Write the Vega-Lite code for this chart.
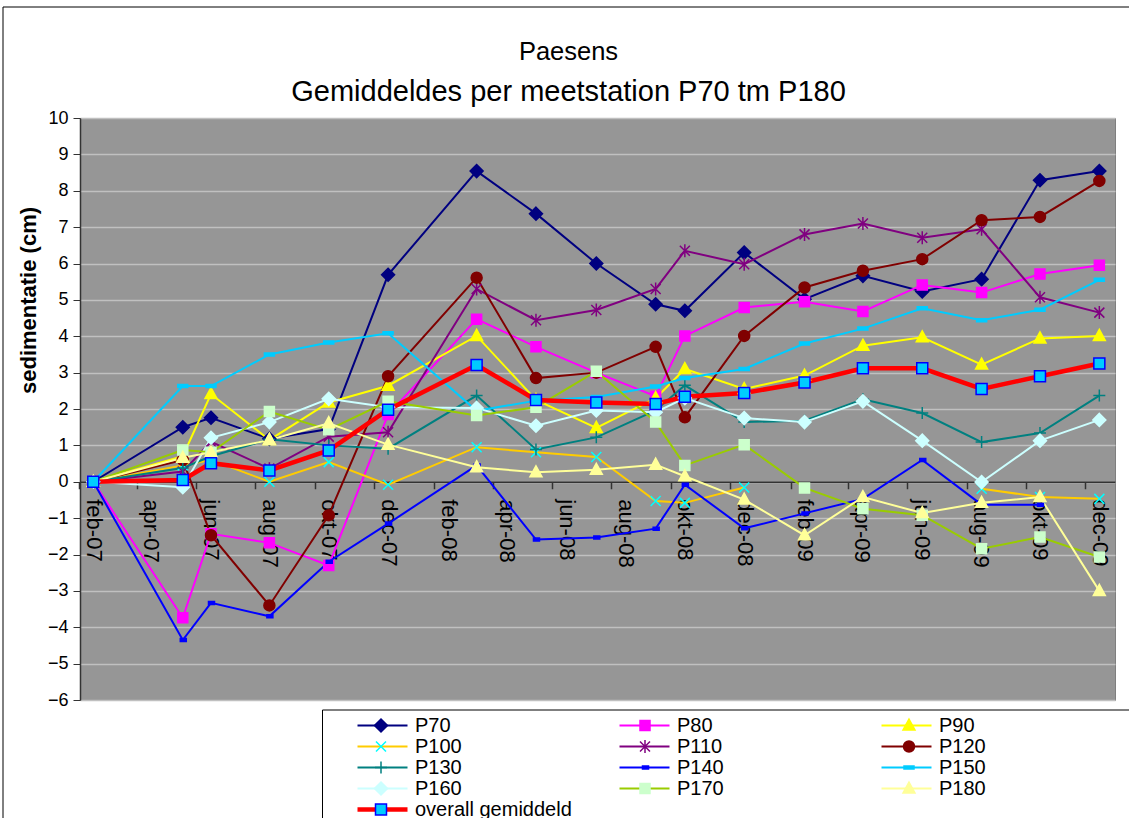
{
"$schema": "https://vega.github.io/schema/vega-lite/v6.json",
"width": 1035, "height": 582,
"autosize": {"type": "none"},
"padding": {"left": 80, "top": 118, "right": 14, "bottom": 118},
"background": "white",
"title": {"text": "Paesens", "subtitle": "Gemiddeldes per meetstation P70 tm P180", "fontSize": 25.5, "font": "Liberation Sans", "fontWeight": "normal", "color": "black", "subtitleFontSize": 29, "subtitleFont": "Liberation Sans", "subtitleColor": "black", "subtitlePadding": 13, "anchor": "middle", "frame": "group", "dx": -29, "offset": -100, "baseline": "top"},
"config": {
  "font": "Liberation Sans",
  "view": {"fill": "#969696", "stroke": "#7f7f7f", "strokeWidth": 1}
},
"data": {"values": [
{"date":"2007-02-01","series":"P70","value":0},{"date":"2007-05-04","series":"P70","value":1.5},{"date":"2007-06-02","series":"P70","value":1.76},{"date":"2007-08-01","series":"P70","value":1.18},{"date":"2007-10-01","series":"P70","value":1.45},{"date":"2007-12-01","series":"P70","value":5.69},{"date":"2008-03-01","series":"P70","value":8.54},{"date":"2008-05-01","series":"P70","value":7.37},{"date":"2008-07-02","series":"P70","value":6.0},{"date":"2008-09-01","series":"P70","value":4.88},{"date":"2008-10-01","series":"P70","value":4.7},{"date":"2008-12-01","series":"P70","value":6.3},{"date":"2009-02-01","series":"P70","value":5.02},{"date":"2009-04-02","series":"P70","value":5.66},{"date":"2009-06-02","series":"P70","value":5.23},{"date":"2009-08-02","series":"P70","value":5.57},{"date":"2009-10-01","series":"P70","value":8.29},{"date":"2009-12-01","series":"P70","value":8.54},
{"date":"2007-02-01","series":"P80","value":0},{"date":"2007-05-04","series":"P80","value":-3.74},{"date":"2007-06-02","series":"P80","value":-1.43},{"date":"2007-08-01","series":"P80","value":-1.68},{"date":"2007-10-01","series":"P80","value":-2.3},{"date":"2007-12-01","series":"P80","value":1.85},{"date":"2008-03-01","series":"P80","value":4.47},{"date":"2008-05-01","series":"P80","value":3.71},{"date":"2008-07-02","series":"P80","value":3.0},{"date":"2008-09-01","series":"P80","value":2.35},{"date":"2008-10-01","series":"P80","value":4.01},{"date":"2008-12-01","series":"P80","value":4.79},{"date":"2009-02-01","series":"P80","value":4.95},{"date":"2009-04-02","series":"P80","value":4.68},{"date":"2009-06-02","series":"P80","value":5.41},{"date":"2009-08-02","series":"P80","value":5.2},{"date":"2009-10-01","series":"P80","value":5.71},{"date":"2009-12-01","series":"P80","value":5.95},
{"date":"2007-02-01","series":"P90","value":0},{"date":"2007-05-04","series":"P90","value":0.7},{"date":"2007-06-02","series":"P90","value":2.41},{"date":"2007-08-01","series":"P90","value":1.15},{"date":"2007-10-01","series":"P90","value":2.18},{"date":"2007-12-01","series":"P90","value":2.64},{"date":"2008-03-01","series":"P90","value":4.01},{"date":"2008-05-01","series":"P90","value":2.25},{"date":"2008-07-02","series":"P90","value":1.48},{"date":"2008-09-01","series":"P90","value":2.3},{"date":"2008-10-01","series":"P90","value":3.1},{"date":"2008-12-01","series":"P90","value":2.55},{"date":"2009-02-01","series":"P90","value":2.92},{"date":"2009-04-02","series":"P90","value":3.74},{"date":"2009-06-02","series":"P90","value":3.97},{"date":"2009-08-02","series":"P90","value":3.22},{"date":"2009-10-01","series":"P90","value":3.94},{"date":"2009-12-01","series":"P90","value":4.01},
{"date":"2007-02-01","series":"P100","value":0},{"date":"2007-05-04","series":"P100","value":0.45},{"date":"2007-06-02","series":"P100","value":0.6},{"date":"2007-08-01","series":"P100","value":0.0},{"date":"2007-10-01","series":"P100","value":0.54},{"date":"2007-12-01","series":"P100","value":-0.08},{"date":"2008-03-01","series":"P100","value":0.95},{"date":"2008-05-01","series":"P100","value":0.81},{"date":"2008-07-02","series":"P100","value":0.68},{"date":"2008-09-01","series":"P100","value":-0.53},{"date":"2008-10-01","series":"P100","value":-0.58},{"date":"2008-12-01","series":"P100","value":-0.16},{"date":"2009-02-01","series":"P100","value":null},{"date":"2009-04-02","series":"P100","value":null},{"date":"2009-06-02","series":"P100","value":null},{"date":"2009-08-02","series":"P100","value":-0.19},{"date":"2009-10-01","series":"P100","value":-0.42},{"date":"2009-12-01","series":"P100","value":-0.47},
{"date":"2007-02-01","series":"P110","value":0},{"date":"2007-05-04","series":"P110","value":0.28},{"date":"2007-06-02","series":"P110","value":1.1},{"date":"2007-08-01","series":"P110","value":0.36},{"date":"2007-10-01","series":"P110","value":1.24},{"date":"2007-12-01","series":"P110","value":1.36},{"date":"2008-03-01","series":"P110","value":5.3},{"date":"2008-05-01","series":"P110","value":4.44},{"date":"2008-07-02","series":"P110","value":4.72},{"date":"2008-09-01","series":"P110","value":5.3},{"date":"2008-10-01","series":"P110","value":6.35},{"date":"2008-12-01","series":"P110","value":5.98},{"date":"2009-02-01","series":"P110","value":6.8},{"date":"2009-04-02","series":"P110","value":7.1},{"date":"2009-06-02","series":"P110","value":6.71},{"date":"2009-08-02","series":"P110","value":6.94},{"date":"2009-10-01","series":"P110","value":5.07},{"date":"2009-12-01","series":"P110","value":4.65},
{"date":"2007-02-01","series":"P120","value":0},{"date":"2007-05-04","series":"P120","value":0.6},{"date":"2007-06-02","series":"P120","value":-1.47},{"date":"2007-08-01","series":"P120","value":-3.4},{"date":"2007-10-01","series":"P120","value":-0.92},{"date":"2007-12-01","series":"P120","value":2.9},{"date":"2008-03-01","series":"P120","value":5.61},{"date":"2008-05-01","series":"P120","value":2.85},{"date":"2008-07-02","series":"P120","value":3.0},{"date":"2008-09-01","series":"P120","value":3.71},{"date":"2008-10-01","series":"P120","value":1.77},{"date":"2008-12-01","series":"P120","value":4.01},{"date":"2009-02-01","series":"P120","value":5.34},{"date":"2009-04-02","series":"P120","value":5.8},{"date":"2009-06-02","series":"P120","value":6.12},{"date":"2009-08-02","series":"P120","value":7.19},{"date":"2009-10-01","series":"P120","value":7.28},{"date":"2009-12-01","series":"P120","value":8.27},
{"date":"2007-02-01","series":"P130","value":0},{"date":"2007-05-04","series":"P130","value":0.38},{"date":"2007-06-02","series":"P130","value":0.7},{"date":"2007-08-01","series":"P130","value":1.17},{"date":"2007-10-01","series":"P130","value":1.0},{"date":"2007-12-01","series":"P130","value":0.91},{"date":"2008-03-01","series":"P130","value":2.37},{"date":"2008-05-01","series":"P130","value":0.89},{"date":"2008-07-02","series":"P130","value":1.22},{"date":"2008-09-01","series":"P130","value":1.96},{"date":"2008-10-01","series":"P130","value":2.65},{"date":"2008-12-01","series":"P130","value":1.64},{"date":"2009-02-01","series":"P130","value":1.68},{"date":"2009-04-02","series":"P130","value":2.27},{"date":"2009-06-02","series":"P130","value":1.89},{"date":"2009-08-02","series":"P130","value":1.09},{"date":"2009-10-01","series":"P130","value":1.34},{"date":"2009-12-01","series":"P130","value":2.37},
{"date":"2007-02-01","series":"P140","value":0},{"date":"2007-05-04","series":"P140","value":-4.35},{"date":"2007-06-02","series":"P140","value":-3.33},{"date":"2007-08-01","series":"P140","value":-3.7},{"date":"2007-10-01","series":"P140","value":-2.2},{"date":"2007-12-01","series":"P140","value":-1.15},{"date":"2008-03-01","series":"P140","value":0.45},{"date":"2008-05-01","series":"P140","value":-1.59},{"date":"2008-07-02","series":"P140","value":-1.53},{"date":"2008-09-01","series":"P140","value":-1.29},{"date":"2008-10-01","series":"P140","value":-0.08},{"date":"2008-12-01","series":"P140","value":-1.28},{"date":"2009-02-01","series":"P140","value":-0.87},{"date":"2009-04-02","series":"P140","value":-0.47},{"date":"2009-06-02","series":"P140","value":0.6},{"date":"2009-08-02","series":"P140","value":-0.63},{"date":"2009-10-01","series":"P140","value":-0.63},{"date":"2009-12-01","series":"P140","value":null},
{"date":"2007-02-01","series":"P150","value":0},{"date":"2007-05-04","series":"P150","value":2.63},{"date":"2007-06-02","series":"P150","value":2.63},{"date":"2007-08-01","series":"P150","value":3.5},{"date":"2007-10-01","series":"P150","value":3.83},{"date":"2007-12-01","series":"P150","value":4.08},{"date":"2008-03-01","series":"P150","value":1.95},{"date":"2008-05-01","series":"P150","value":2.23},{"date":"2008-07-02","series":"P150","value":2.33},{"date":"2008-09-01","series":"P150","value":2.62},{"date":"2008-10-01","series":"P150","value":2.85},{"date":"2008-12-01","series":"P150","value":3.1},{"date":"2009-02-01","series":"P150","value":3.8},{"date":"2009-04-02","series":"P150","value":4.21},{"date":"2009-06-02","series":"P150","value":4.77},{"date":"2009-08-02","series":"P150","value":4.44},{"date":"2009-10-01","series":"P150","value":4.73},{"date":"2009-12-01","series":"P150","value":5.55},
{"date":"2007-02-01","series":"P160","value":0},{"date":"2007-05-04","series":"P160","value":-0.15},{"date":"2007-06-02","series":"P160","value":1.21},{"date":"2007-08-01","series":"P160","value":1.64},{"date":"2007-10-01","series":"P160","value":2.28},{"date":"2007-12-01","series":"P160","value":2.05},{"date":"2008-03-01","series":"P160","value":2.03},{"date":"2008-05-01","series":"P160","value":1.54},{"date":"2008-07-02","series":"P160","value":1.96},{"date":"2008-09-01","series":"P160","value":1.91},{"date":"2008-10-01","series":"P160","value":2.3},{"date":"2008-12-01","series":"P160","value":1.75},{"date":"2009-02-01","series":"P160","value":1.64},{"date":"2009-04-02","series":"P160","value":2.21},{"date":"2009-06-02","series":"P160","value":1.13},{"date":"2009-08-02","series":"P160","value":-0.01},{"date":"2009-10-01","series":"P160","value":1.13},{"date":"2009-12-01","series":"P160","value":1.7},
{"date":"2007-02-01","series":"P170","value":0},{"date":"2007-05-04","series":"P170","value":0.87},{"date":"2007-06-02","series":"P170","value":0.81},{"date":"2007-08-01","series":"P170","value":1.93},{"date":"2007-10-01","series":"P170","value":1.43},{"date":"2007-12-01","series":"P170","value":2.21},{"date":"2008-03-01","series":"P170","value":1.82},{"date":"2008-05-01","series":"P170","value":2.05},{"date":"2008-07-02","series":"P170","value":3.04},{"date":"2008-09-01","series":"P170","value":1.64},{"date":"2008-10-01","series":"P170","value":0.45},{"date":"2008-12-01","series":"P170","value":1.02},{"date":"2009-02-01","series":"P170","value":-0.17},{"date":"2009-04-02","series":"P170","value":-0.74},{"date":"2009-06-02","series":"P170","value":-0.92},{"date":"2009-08-02","series":"P170","value":-1.84},{"date":"2009-10-01","series":"P170","value":-1.52},{"date":"2009-12-01","series":"P170","value":-2.07},
{"date":"2007-02-01","series":"P180","value":0},{"date":"2007-05-04","series":"P180","value":0.66},{"date":"2007-06-02","series":"P180","value":0.81},{"date":"2007-08-01","series":"P180","value":1.15},{"date":"2007-10-01","series":"P180","value":1.61},{"date":"2007-12-01","series":"P180","value":1.02},{"date":"2008-03-01","series":"P180","value":0.4},{"date":"2008-05-01","series":"P180","value":0.26},{"date":"2008-07-02","series":"P180","value":0.33},{"date":"2008-09-01","series":"P180","value":0.47},{"date":"2008-10-01","series":"P180","value":0.15},{"date":"2008-12-01","series":"P180","value":-0.49},{"date":"2009-02-01","series":"P180","value":-1.47},{"date":"2009-04-02","series":"P180","value":-0.42},{"date":"2009-06-02","series":"P180","value":-0.86},{"date":"2009-08-02","series":"P180","value":-0.58},{"date":"2009-10-01","series":"P180","value":-0.42},{"date":"2009-12-01","series":"P180","value":-3.0},
{"date":"2007-02-01","series":"overall gemiddeld","value":0},{"date":"2007-05-04","series":"overall gemiddeld","value":0.05},{"date":"2007-06-02","series":"overall gemiddeld","value":0.51},{"date":"2007-08-01","series":"overall gemiddeld","value":0.31},{"date":"2007-10-01","series":"overall gemiddeld","value":0.86},{"date":"2007-12-01","series":"overall gemiddeld","value":1.98},{"date":"2008-03-01","series":"overall gemiddeld","value":3.21},{"date":"2008-05-01","series":"overall gemiddeld","value":2.25},{"date":"2008-07-02","series":"overall gemiddeld","value":2.18},{"date":"2008-09-01","series":"overall gemiddeld","value":2.14},{"date":"2008-10-01","series":"overall gemiddeld","value":2.34},{"date":"2008-12-01","series":"overall gemiddeld","value":2.44},{"date":"2009-02-01","series":"overall gemiddeld","value":2.73},{"date":"2009-04-02","series":"overall gemiddeld","value":3.12},{"date":"2009-06-02","series":"overall gemiddeld","value":3.12},{"date":"2009-08-02","series":"overall gemiddeld","value":2.55},{"date":"2009-10-01","series":"overall gemiddeld","value":2.9},{"date":"2009-12-01","series":"overall gemiddeld","value":3.25}
]},
"encoding": {
  "x": {"field": "date", "type": "temporal",
    "scale": {"type": "utc", "domain": [1169110000000, 1261016640000]},
    "axis": {"orient": "bottom", "offset": -218.25, "title": null, "grid": false,
      "values": [{"year":2007,"month":2,"date":1,"utc":true},{"year":2007,"month":4,"date":1,"utc":true},{"year":2007,"month":6,"date":1,"utc":true},{"year":2007,"month":8,"date":1,"utc":true},{"year":2007,"month":10,"date":1,"utc":true},{"year":2007,"month":12,"date":1,"utc":true},{"year":2008,"month":2,"date":1,"utc":true},{"year":2008,"month":4,"date":1,"utc":true},{"year":2008,"month":6,"date":1,"utc":true},{"year":2008,"month":8,"date":1,"utc":true},{"year":2008,"month":10,"date":1,"utc":true},{"year":2008,"month":12,"date":1,"utc":true},{"year":2009,"month":2,"date":1,"utc":true},{"year":2009,"month":4,"date":1,"utc":true},{"year":2009,"month":6,"date":1,"utc":true},{"year":2009,"month":8,"date":1,"utc":true},{"year":2009,"month":10,"date":1,"utc":true},{"year":2009,"month":12,"date":1,"utc":true}],
      "labelExpr": "replace(lower(utcFormat(datum.value, '%b-%y')), 'oct', 'okt')",
      "labelAngle": 90, "labelAlign": "left", "labelBaseline": "middle", "labelFontSize": 22, "labelFont": "Liberation Sans", "labelColor": "black",
      "labelPadding": 10, "labelOverlap": false, "labelFlush": false, "labelBound": false,
      "tickSize": 7, "tickColor": "#333333", "tickWidth": 1.5, "domainColor": "#333333", "domainWidth": 1.5,
      "tickOffset": -14, "labelOffset": 14}},
  "y": {"field": "value", "type": "quantitative",
    "scale": {"domain": [-6, 10], "nice": false, "zero": false},
    "axis": {"values": [-6,-5,-4,-3,-2,-1,0,1,2,3,4,5,6,7,8,9,10], "title": "sedimentatie (cm)", "titleFontSize": 22, "titleFontWeight": "bold", "titleFont": "Liberation Sans", "titleColor": "black",
      "titleX": -52, "titleY": 182, "titleAngle": -90, "titleAlign": "center", "titleBaseline": "middle",
      "labelFontSize": 18, "labelFont": "Liberation Sans", "labelColor": "black", "labelPadding": 5,
      "tickSize": 7, "tickColor": "#333333", "domainColor": "#333333", "domainWidth": 1.5,
      "grid": true, "gridColor": "#c0c0c0", "gridWidth": 1.5}}
},
"layer": [
  {"mark": {"type": "line", "invalid": "break-paths-filter-domains"},
   "encoding": {
     "color": {"field": "series", "type": "nominal",
       "scale": {"domain": ["P70","P80","P90","P100","P110","P120","P130","P140","P150","P160","P170","P180","overall gemiddeld"],
                 "range": ["#000080","#ff00ff","#ffff00","#ffcc00","#800080","#800000","#008080","#0000ff","#00ccff","#ccffff","#99cc00","#ffff99","#ff0000"]},
       "legend": null},
     "strokeWidth": {"condition": {"test": "datum.series === 'overall gemiddeld'", "value": 4.5}, "value": 2}
   }},
  {"mark": {"type": "point", "opacity": 0, "size": 2500, "strokeWidth": 2},
   "encoding": {
     "shape": {"field": "series", "type": "nominal",
       "scale": {"domain": ["P70","P80","P90","P100","P110","P120","P130","P140","P150","P160","P170","P180","overall gemiddeld"],
         "range": ["M-1,0L1,0","M-1,0L1,0","M-1,0L1,0","M-1,0L1,0","M-1,0L1,0","M-1,0L1,0","M-1,0L1,0","M-1,0L1,0","M-1,0L1,0","M-1,0L1,0","M-1,0L1,0","M-1,0L1,0","M-1,0L1,0"]},
       "legend": {"orient": "none", "direction": "horizontal", "legendX": 275, "legendY": 597, "columns": 3, "gridAlign": "all", "columnPadding": 45, "rowPadding": 0, "clipHeight": 21, "symbolSize": 2500, "symbolOpacity": 1, "symbolFillColor": "transparent", "labelFontSize": 20, "labelFont": "Liberation Sans", "labelColor": "black", "labelOffset": 5, "title": null, "padding": 0, "labelLimit": 400}},
     "stroke": {"field": "series", "type": "nominal",
       "scale": {"domain": ["P70","P80","P90","P100","P110","P120","P130","P140","P150","P160","P170","P180","overall gemiddeld"],
                 "range": ["#000080","#ff00ff","#ffff00","#ffcc00","#800080","#800000","#008080","#0000ff","#00ccff","#ccffff","#99cc00","#ffff99","#ff0000"]},
       "legend": {"orient": "none", "direction": "horizontal", "legendX": 275, "legendY": 597, "columns": 3, "gridAlign": "all", "columnPadding": 45, "rowPadding": 0, "clipHeight": 21, "symbolSize": 2500, "symbolOpacity": 1, "symbolFillColor": "transparent", "labelFontSize": 20, "labelFont": "Liberation Sans", "labelColor": "black", "labelOffset": 5, "title": null, "padding": 0, "labelLimit": 400}},
     "strokeWidth": {"field": "series", "type": "ordinal",
       "scale": {"type": "ordinal", "domain": ["P70","P80","P90","P100","P110","P120","P130","P140","P150","P160","P170","P180","overall gemiddeld"],
                 "range": [2,2,2,2,2,2,2,2,2,2,2,2,4.5]},
       "legend": {"orient": "none", "direction": "horizontal", "legendX": 275, "legendY": 597, "columns": 3, "gridAlign": "all", "columnPadding": 45, "rowPadding": 0, "clipHeight": 21, "symbolSize": 2500, "symbolOpacity": 1, "symbolFillColor": "transparent", "labelFontSize": 20, "labelFont": "Liberation Sans", "labelColor": "black", "labelOffset": 5, "title": null, "padding": 0, "labelLimit": 400}},
     "fill": {"field": "value", "type": "quantitative",
       "scale": {"range": ["transparent", "transparent"]},
       "legend": {"orient": "none", "direction": "horizontal", "legendX": 242.5, "legendY": 592, "gradientLength": 950, "gradientThickness": 160, "gradientStrokeColor": "black", "gradientStrokeWidth": 1, "gradientOpacity": 1, "title": null, "labelExpr": "''", "padding": 0,
         "encode": {"gradient": {"update": {"opacity": {"value": 1}}}}}}
   }},
  {"mark": {"type": "point", "opacity": 0, "size": 10},
   "encoding": {
     "fill": {"field": "value", "type": "quantitative",
       "scale": {"range": ["transparent", "transparent"]},
       "legend": {"orient": "none", "direction": "horizontal", "legendX": -77, "legendY": -111, "gradientLength": 1300, "gradientThickness": 900, "gradientStrokeColor": "black", "gradientStrokeWidth": 1, "gradientOpacity": 1, "title": null, "labelExpr": "''", "padding": 0,
         "encode": {"gradient": {"update": {"opacity": {"value": 1}}}}}}
   }},
  {"mark": {"type": "point", "opacity": 1, "strokeWidth": 1.5, "size": 2500},
   "encoding": {
     "shape": {"field": "series", "type": "nominal",
       "scale": {"domain": ["P70","P80","P90","P100","P110","P120","P130","P140","P150","P160","P170","P180","overall gemiddeld"],
         "range": ["M-1,0M1,0M0,-0.26L0.26,0L0,0.26L-0.26,0Z","M-1,0M1,0M-0.2,-0.2L0.2,-0.2L0.2,0.2L-0.2,0.2Z","M-1,0M1,0M0,-0.26L0.24,0.18L-0.24,0.18Z","M-1,0M1,0M-0.2,-0.2L0.2,0.2M-0.2,0.2L0.2,-0.2","M-1,0M1,0M-0.2,-0.2L0.2,0.2M-0.2,0.2L0.2,-0.2M0,-0.26L0,0.26","M-1,0M1,0M0.22,0A0.22,0.22,0,1,1,-0.22,0A0.22,0.22,0,1,1,0.22,0Z","M-1,0M1,0M-0.24,0L0.24,0M0,-0.24L0,0.24","M-1,0M1,0M-0.1,-0.06L0.14,-0.06L0.14,0.06L-0.1,0.06Z","M-1,0M1,0M-0.2,-0.06L0.2,-0.06L0.2,0.06L-0.2,0.06Z","M-1,0M1,0M0,-0.26L0.26,0L0,0.26L-0.26,0Z","M-1,0M1,0M-0.2,-0.2L0.2,-0.2L0.2,0.2L-0.2,0.2Z","M-1,0M1,0M0,-0.26L0.24,0.18L-0.24,0.18Z","M-1,0M1,0M-0.22,-0.22L0.22,-0.22L0.22,0.22L-0.22,0.22Z"]},
       "legend": {"orient": "none", "direction": "horizontal", "legendX": 275, "legendY": 597, "columns": 3, "gridAlign": "all", "columnPadding": 207, "rowPadding": 0, "clipHeight": 21, "symbolSize": 2500, "symbolStrokeWidth": 1.5, "symbolOpacity": 1, "labelFontSize": 20, "labelFont": "Liberation Sans", "labelExpr": "''", "labelOffset": 5, "title": null, "padding": 0}},
     "fill": {"field": "series", "type": "nominal",
       "scale": {"domain": ["P70","P80","P90","P100","P110","P120","P130","P140","P150","P160","P170","P180","overall gemiddeld"],
         "range": ["#000080","#ff00ff","#ffff00","transparent","transparent","#800000","transparent","#0000ff","#00ccff","#ccffff","#ccffcc","#ffff99","#00ccff"]},
       "legend": {"orient": "none", "direction": "horizontal", "legendX": 275, "legendY": 597, "columns": 3, "gridAlign": "all", "columnPadding": 207, "rowPadding": 0, "clipHeight": 21, "symbolSize": 2500, "symbolStrokeWidth": 1.5, "symbolOpacity": 1, "labelFontSize": 20, "labelFont": "Liberation Sans", "labelExpr": "''", "labelOffset": 5, "title": null, "padding": 0}},
     "stroke": {"field": "series", "type": "nominal",
       "scale": {"domain": ["P70","P80","P90","P100","P110","P120","P130","P140","P150","P160","P170","P180","overall gemiddeld"],
         "range": ["#000080","#ff00ff","#ffff00","#00ffff","#800080","#800000","#008080","#0000ff","#00ccff","#ccffff","#ccffcc","#ffff99","#0000ff"]},
       "legend": {"orient": "none", "direction": "horizontal", "legendX": 275, "legendY": 597, "columns": 3, "gridAlign": "all", "columnPadding": 207, "rowPadding": 0, "clipHeight": 21, "symbolSize": 2500, "symbolStrokeWidth": 1.5, "symbolOpacity": 1, "labelFontSize": 20, "labelFont": "Liberation Sans", "labelExpr": "''", "labelOffset": 5, "title": null, "padding": 0}}
   }}
],
"resolve": {"scale": {"shape": "independent", "stroke": "independent", "fill": "independent", "strokeWidth": "independent"}, "legend": {"color": "independent", "fill": "independent", "stroke": "independent", "shape": "independent", "strokeWidth": "independent"}}
}
